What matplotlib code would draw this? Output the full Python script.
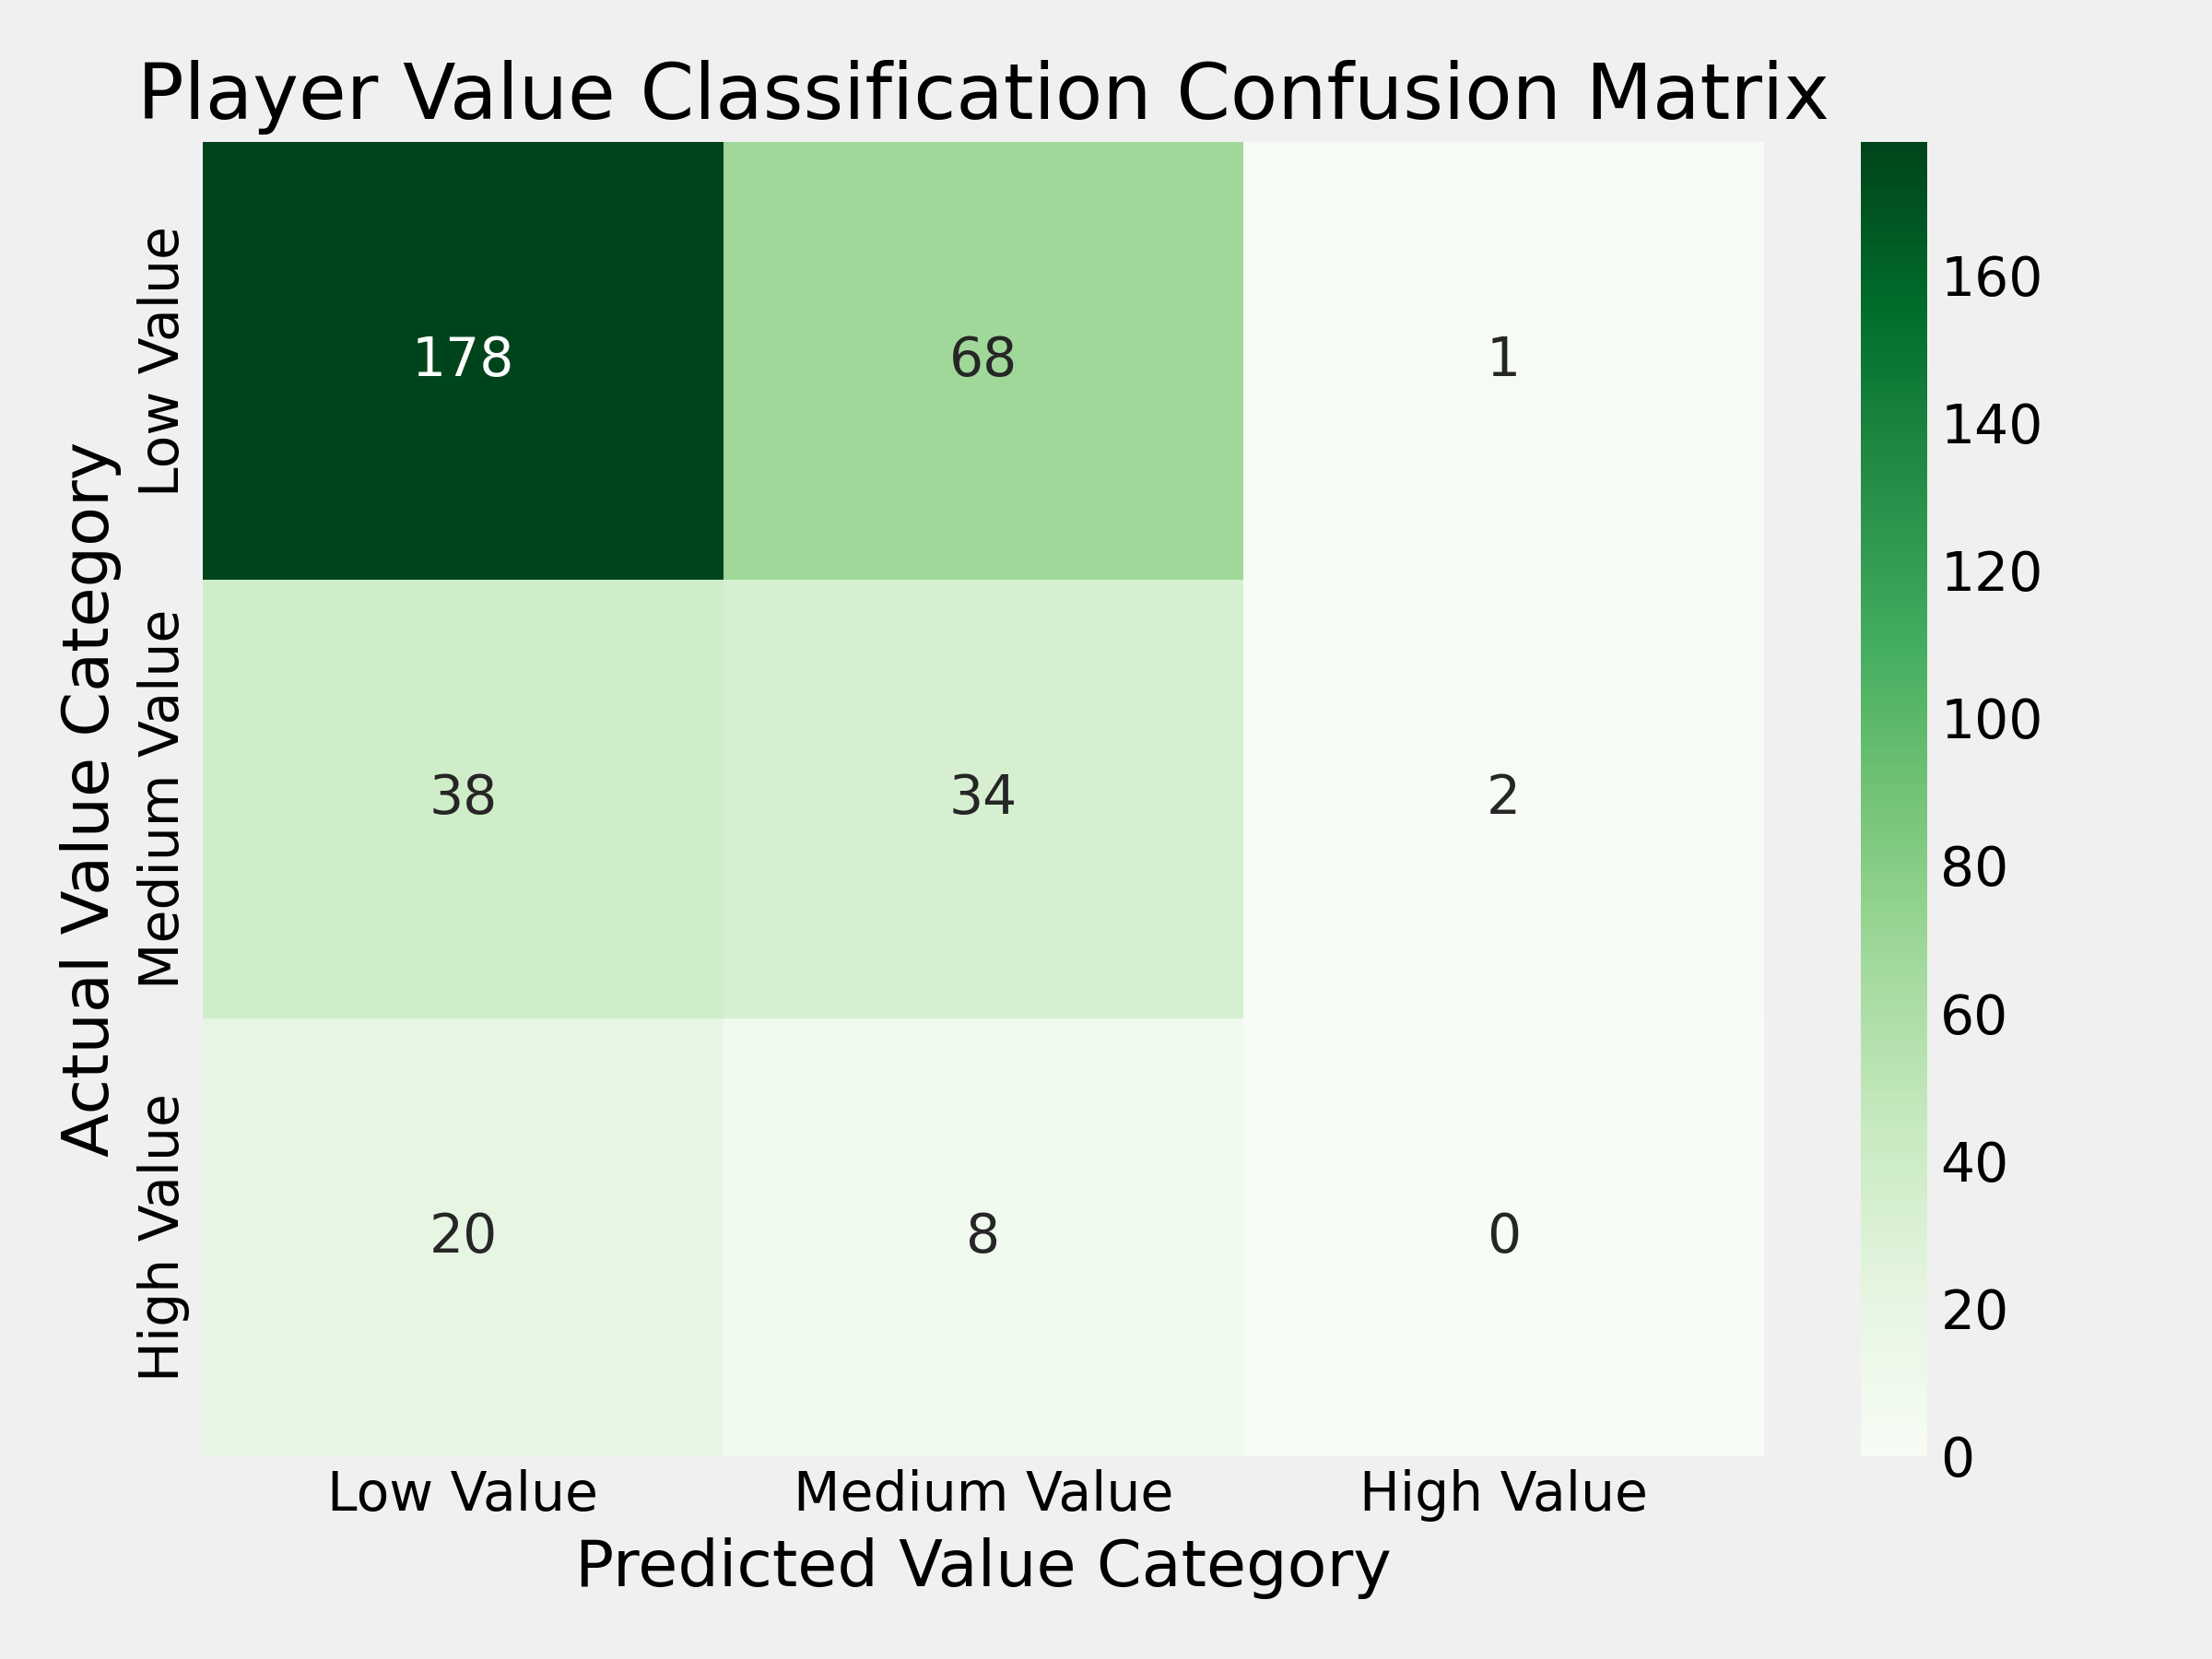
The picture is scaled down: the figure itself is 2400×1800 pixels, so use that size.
import matplotlib
matplotlib.use("Agg")
import matplotlib.pyplot as plt
import numpy as np
import seaborn as sns

labels = ["Low Value", "Medium Value", "High Value"]
counts = np.array([
    [178, 68, 1],
    [38, 34, 2],
    [20, 8, 0],
])

plt.style.use("fivethirtyeight")

fig, ax = plt.subplots(figsize=(8, 6))
sns.heatmap(counts, annot=True, fmt="d", cmap="Greens",
            xticklabels=labels, yticklabels=labels, ax=ax)
ax.set_title("Player Value Classification Confusion Matrix")
ax.set_xlabel("Predicted Value Category")
ax.set_ylabel("Actual Value Category")
fig.tight_layout()
fig.savefig("out.png", dpi=300)
